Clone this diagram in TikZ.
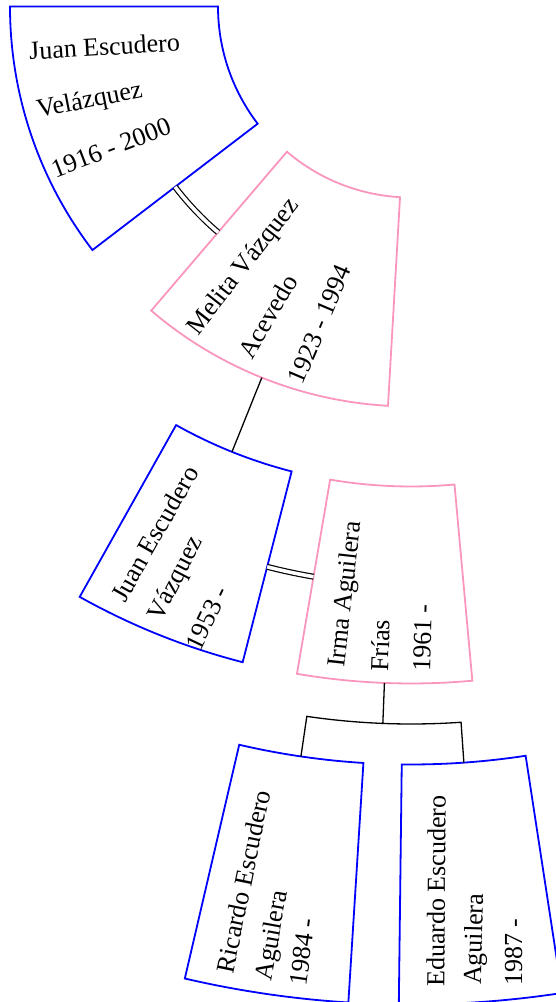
\documentclass[tikz,border=0pt]{standalone}
\usepackage{fontspec}
\setmainfont{Liberation Serif}
\usetikzlibrary{calc}
\definecolor{mblue}{RGB}{0,0,255}
\definecolor{fpink}{RGB}{250,150,190}
\newcommand{\fansector}[5]{\draw[#1] ($(C)+(#2:#4)$) arc[start angle=#2,end angle=#3,radius=#4] -- ($(C)+(#3:#5)$) arc[start angle=#3,end angle=#2,radius=#5] -- cycle;}
\tikzset{
  male/.style={draw=mblue,line width=1.8pt,line join=miter},
  female/.style={draw=fpink,line width=1.8pt,line join=miter},
  txt/.style={font=\fontsize{26}{26}\selectfont,inner sep=0pt,anchor=base},
  link/.style={draw=black,line width=1.3pt},
  marr/.style={draw=black,line width=1.2pt,double=white,double distance=3.6pt}
}
\begin{document}
\begin{tikzpicture}[x=1pt,y=1pt]
\useasboundingbox (0,0) rectangle (556,-1002);
\clip (0,0) rectangle (556,-1002);
\coordinate (C) at (411,-6.5);
% sectors
\fansector{male}{180}{217.4}{401}{193}
\fansector{female}{229.5}{266.7}{400}{191}
\fansector{male}{240.7}{255.6}{677}{480}
\fansector{female}{260.3}{275.2}{677}{480}
\fansector{male}{256.9}{266.4}{998}{758}
\fansector{male}{269.3}{278.7}{998}{758}
% connector points
\coordinate (m1s) at ($(C)+(217.4:297)$);
\coordinate (m2s) at ($(C)+(255.6:578.5)$);
\coordinate (p2o) at ($(C)+(248.1:400)$);
\coordinate (c3i) at ($(C)+(248.1:480)$);
\coordinate (p4o) at ($(C)+(267.75:677)$);
\coordinate (bar) at ($(C)+(267.75:717.5)$);
\coordinate (barl) at ($(C)+(261.65:717.5)$);
\coordinate (c5i) at ($(C)+(261.65:758)$);
\coordinate (barr) at ($(C)+(274.0:717.5)$);
\coordinate (c6i) at ($(C)+(274.0:758)$);
\draw[marr] (m1s) arc[start angle=217.4,end angle=229.5,radius=297];
\draw[marr] (m2s) arc[start angle=255.6,end angle=260.3,radius=578.5];
\draw[link] (p2o) -- (c3i);
\draw[link] (p4o) -- (bar);
\draw[link] (c5i) -- (barl) arc[start angle=261.65,end angle=274.0,radius=717.5] -- (c6i);
% texts
\node[txt,rotate=3.4]  (t11) at (105,-55.3) {Juan Escudero};
\node[txt,rotate=11.3] (t12) at (91,-107.5) {Velázquez};
\node[txt,rotate=21]   (t13) at (114,-155.6) {1916 - 2000};
\node[txt,rotate=52]   (t21) at (249,-271) {Melita Vázquez};
\node[txt,rotate=60]   (t22) at (275.5,-320.8) {Acevedo};
\node[txt,rotate=67]   (t23) at (327.5,-327.5) {1923 - 1994};
\node[txt,rotate=60.4] (t31) at (162.4,-538.2) {Juan Escudero};
\node[txt,rotate=62.6] (t32) at (182.1,-581.8) {Vázquez};
\node[txt,rotate=64.5] (t33) at (214.8,-621.7) {1953 -};
\node[txt,rotate=83.8] (t41) at (352.8,-595) {Irma Aguilera};
\node[txt,rotate=88]   (t42) at (389.2,-646) {Frías};
\node[txt,rotate=88.4] (t43) at (431,-638.3) {1961 -};
\node[txt,rotate=78.4] (t51) at (252,-883.3) {Ricardo Escudero};
\node[txt,rotate=79.8] (t52) at (279.5,-936.7) {Aguilera};
\node[txt,rotate=82]   (t53) at (311,-953) {1984 -};
\node[txt,rotate=89.6] (t61) at (445,-891) {Eduardo Escudero};
\node[txt,rotate=88.5] (t62) at (482,-939.5) {Aguilera};
\node[txt,rotate=90]   (t63) at (522,-952) {1987 -};
\end{tikzpicture}
\end{document}
